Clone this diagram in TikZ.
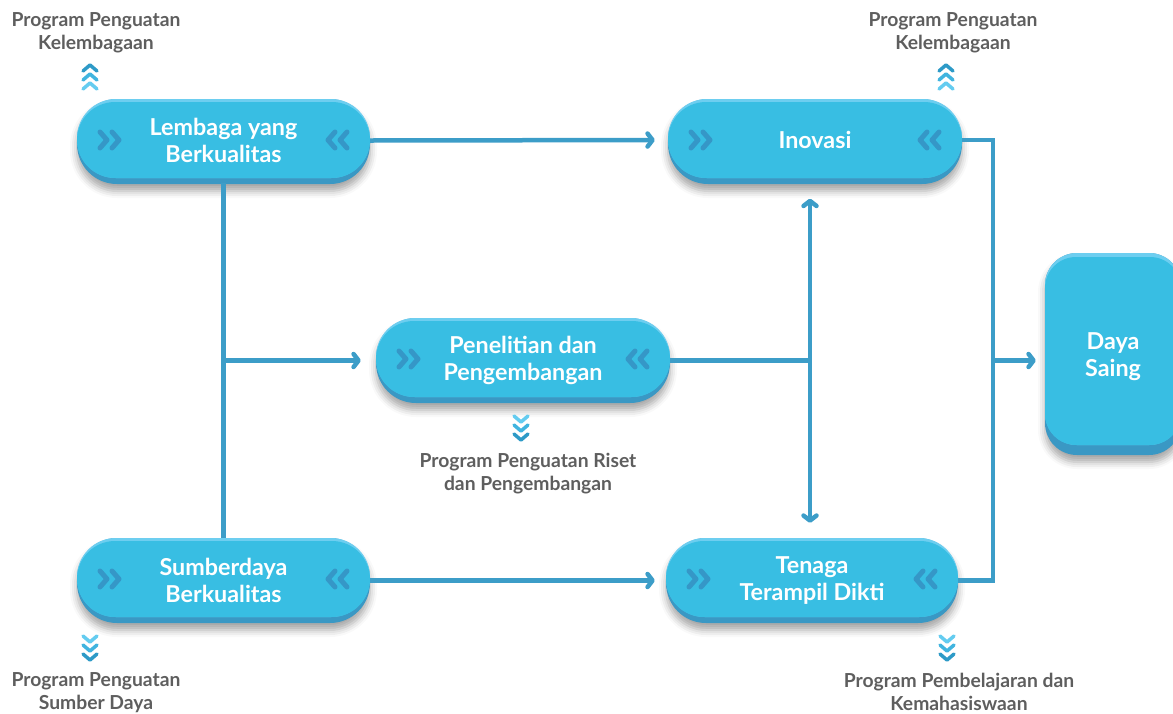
\documentclass[tikz,border=0pt]{standalone}
\usepackage{fontspec}
\setmainfont{Lato}
\usetikzlibrary{arrows.meta,shadows.blur,calc}

\definecolor{pillmain}{HTML}{38BEE3}
\definecolor{pilllight}{HTML}{6DCEF0}
\definecolor{pilldark}{HTML}{3A98C4}
\definecolor{wire}{HTML}{3C9DC8}
\definecolor{chev}{HTML}{3597C7}
\definecolor{labelgray}{HTML}{5E5E5E}
\definecolor{chevA}{HTML}{2D9AC7}
\definecolor{chevB}{HTML}{40B4DF}
\definecolor{chevC}{HTML}{64CCF0}

\tikzset{
  wireline/.style={draw=wire, line width=4.5pt, line join=miter},
  barb/.tip={Straight Barb[length=5pt,width=13pt,round]},
  arrowline/.style={wireline, -barb},
  pilltext/.style={font=\bfseries\fontsize{23.3}{27}\selectfont, text=white,
    align=center, inner sep=0pt},
  caption/.style={font=\bfseries\fontsize{19.3}{23}\selectfont, text=labelgray,
    align=center, inner sep=0pt, anchor=north},
  chevstroke/.style={line width=5pt, line cap=round, line join=round},
  stackstroke/.style={line width=3.5pt, line cap=round, line join=round},
  bodyshadow/.style={blur shadow={shadow xshift=0pt, shadow yshift=-7pt,
    shadow blur radius=7pt, shadow opacity=35}},
}

% layered 3D body of a pill: left, top, right, bottom
\newcommand\pillbody[4]{%
  \fill[pilldark, rounded corners=40pt, bodyshadow] (#1,#2) rectangle (#3,#4);
  \fill[pilllight, rounded corners=39pt] (#1,#2) rectangle (#3,#4-6);
  \fill[pillmain, rounded corners=38pt] (#1,#2+3) rectangle (#3,#4-6);
  \draw[chev, chevstroke] (#1+23,#2+33)--(#1+30,#2+41)--(#1+23,#2+49)
                          (#1+35,#2+33)--(#1+42,#2+41)--(#1+35,#2+49);
  \draw[chev, chevstroke] (#3-23,#2+33)--(#3-30,#2+41)--(#3-23,#2+49)
                          (#3-35,#2+33)--(#3-42,#2+41)--(#3-35,#2+49);
}

% stacked chevrons pointing up / down: centre x, top y
\newcommand\stackup[2]{%
  \draw[chevA, stackstroke] (#1-7,#2+9)--(#1,#2+3)--(#1+7,#2+9);
  \draw[chevB, stackstroke] (#1-7,#2+18)--(#1,#2+12)--(#1+7,#2+18);
  \draw[chevC, stackstroke] (#1-7,#2+27)--(#1,#2+21)--(#1+7,#2+27);
}
\newcommand\stackdown[2]{%
  \draw[chevC, stackstroke] (#1-7,#2+2)--(#1,#2+8)--(#1+7,#2+2);
  \draw[chevB, stackstroke] (#1-7,#2+11)--(#1,#2+17)--(#1+7,#2+11);
  \draw[chevA, stackstroke] (#1-7,#2+20)--(#1,#2+26)--(#1+7,#2+20);
}

\begin{document}
\begin{tikzpicture}[x=1pt, y=-1pt]
\useasboundingbox (0,0) rectangle (1173,713);
\clip (0,0) rectangle (1173,713);

% pill bodies
\pillbody{77}{99}{370}{184}
\pillbody{668}{99}{962}{184}
\pillbody{376}{318}{670}{403}
\pillbody{77}{538}{370}{623}
\pillbody{666}{538}{958}{623}

% tall target block
\fill[pilldark, rounded corners=32pt, bodyshadow] (1045,253) rectangle (1181,455);
\fill[pilllight, rounded corners=32pt] (1045,253) rectangle (1181,445);
\fill[pillmain, rounded corners=31pt] (1045,257) rectangle (1181,445);

% named nodes carrying the texts
\node[pilltext, minimum width=293pt, minimum height=85pt] (lem) at (223.5,140.5) {Lembaga yang\\Berkualitas};
\node[pilltext, minimum width=294pt, minimum height=85pt] (ino) at (815,140) {Inovasi};
\node[pilltext, minimum width=294pt, minimum height=85pt] (pen) at (523,360.5) {Penelitian dan\\Pengembangan};
\node[pilltext, minimum width=293pt, minimum height=85pt] (sum) at (223.5,580.5) {Sumberdaya\\Berkualitas};
\node[pilltext, minimum width=292pt, minimum height=85pt] (ten) at (812,580.5) {Tenaga\\Terampil Dikti};
\node[pilltext, minimum width=136pt, minimum height=202pt] (day) at (1113,357) {Daya\\Saing};

% program captions
\node[caption] (capTL) at (96,12.5) {Program Penguatan\\Kelembagaan};
\node[caption] (capTR) at (953,12.5) {Program Penguatan\\Kelembagaan};
\node[caption] (capMid) at (528,452.5) {Program Penguatan Riset\\dan Pengembangan};
\node[caption] (capBL) at (96,672.5) {Program Penguatan\\Sumber Daya};
\node[caption] (capBR) at (959,672.5) {Program Pembelajaran dan\\Kemahasiswaan};

\stackup{90}{62}
\stackup{946}{62}
\stackdown{521}{414}
\stackdown{90}{634}
\stackdown{947}{634}

% junction points
\coordinate (jm) at (810,360.5);
\coordinate (jr) at (993,360.5);

% connectors
\draw[arrowline, shorten >=13pt] (lem.east) -- (ino.west);
\draw[wireline] (lem.south) -- (sum.north);
\draw[arrowline, shorten >=15pt] (lem.south |- pen.west) -- (pen.west);
\draw[arrowline, shorten >=11pt] (sum.east) -- (ten.west);
\draw[wireline] (pen.east) -- (jm);
\draw[wireline, barb-barb, shorten <=16pt, shorten >=15pt] (jm |- ino.south) -- (jm |- ten.north);
\draw[wireline] (ino.east) -| (jr) |- (ten.east);
\draw[arrowline, shorten >=9pt] (jr) -- (jr -| day.west);
\end{tikzpicture}
\end{document}
